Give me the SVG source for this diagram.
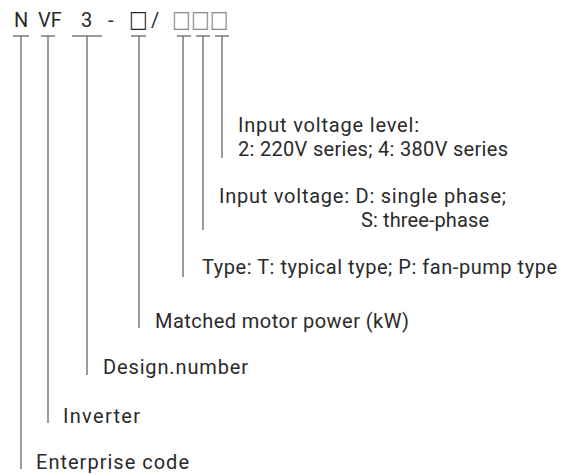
<svg xmlns="http://www.w3.org/2000/svg" width="572" height="475" viewBox="0 0 572 475">
<style>
text{font-family:Roboto,"Noto Sans",sans-serif;font-size:20px;fill:#2a2a2a}
.bx{font-family:"DejaVu Sans",sans-serif;font-size:20px}
.c line{stroke:#707070;stroke-width:1.4}
.lt{fill:#8a8a8a}
</style>
<rect width="572" height="475" fill="#fff"/>
<g id="code">
<text x="14" y="27">N</text>
<text x="38" y="27">VF</text>
<text x="81" y="27">3</text>
<text x="108" y="27">-</text>
<text class="bx" x="129" y="27" transform="translate(0,-4.5) scale(1,1.15)">□</text>
<text x="151" y="27">/</text>
<text class="bx lt" x="172" y="27" transform="translate(0,-4.5) scale(1,1.15)">□□□</text>
</g>
<g class="c" id="connectors">
<line x1="13" y1="36" x2="29" y2="36"/><line x1="21" y1="36" x2="21" y2="469"/>
<line x1="41" y1="36" x2="55" y2="36"/><line x1="48" y1="36" x2="48" y2="423"/>
<line x1="72" y1="36" x2="102" y2="36"/><line x1="87" y1="36" x2="87" y2="375"/>
<line x1="131" y1="36" x2="146" y2="36"/><line x1="139" y1="36" x2="139" y2="328"/>
<line x1="177" y1="36" x2="191" y2="36"/><line x1="183" y1="36" x2="183" y2="277"/>
<line x1="196" y1="36" x2="210" y2="36"/><line x1="203" y1="36" x2="203" y2="230"/>
<line x1="215" y1="36" x2="229" y2="36"/><line x1="222" y1="36" x2="222" y2="158"/>
</g>
<g id="level"><text x="238" y="132" textLength="181">Input voltage level:</text><text x="238" y="156" textLength="270">2: 220V series; 4: 380V series</text></g>
<g id="phase"><text x="219" y="203" textLength="287">Input voltage: D: single phase;</text><text x="361" y="227" textLength="128">S: three-phase</text></g>
<g id="type"><text x="202" y="274" textLength="355">Type: T: typical type; P: fan-pump type</text></g>
<g id="power"><text x="155" y="328" textLength="254">Matched motor power (kW)</text></g>
<g id="design"><text x="103" y="374" textLength="145">Design.number</text></g>
<g id="inverter"><text x="63" y="423" textLength="77">Inverter</text></g>
<g id="enterprise"><text x="36" y="469" textLength="153">Enterprise code</text></g>
</svg>
